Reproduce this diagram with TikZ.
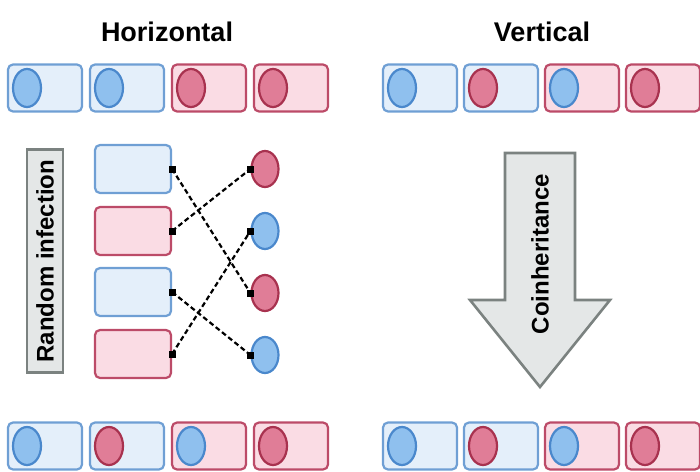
\documentclass[tikz,border=0pt]{standalone}
\usepackage{fontspec}
\setmainfont{Liberation Sans}
\usetikzlibrary{shapes.geometric}
\definecolor{bluefill}{HTML}{E4EFFA}
\definecolor{blueline}{HTML}{6F9FD4}
\definecolor{bluecell}{HTML}{8FC0EE}
\definecolor{bluering}{HTML}{4A88CC}
\definecolor{redfill}{HTML}{FADCE4}
\definecolor{redline}{HTML}{BC4B68}
\definecolor{redcell}{HTML}{E07D97}
\definecolor{redring}{HTML}{A8324F}
\definecolor{greyfill}{HTML}{E4E7E7}
\definecolor{greyline}{HTML}{7B8280}
\tikzset{
  bbox/.style={draw=blueline,fill=bluefill,line width=2.2pt,rounded corners=5pt,minimum width=74pt,minimum height=47pt,inner sep=0pt},
  rbox/.style={bbox,draw=redline,fill=redfill},
  bcell/.style={ellipse,draw=bluering,fill=bluecell,line width=2.2pt,minimum width=28pt,minimum height=38pt,inner sep=0pt},
  rcell/.style={bcell,draw=redring,fill=redcell},
  title/.style={font=\bfseries\fontsize{27}{30}\selectfont},
  tag/.style={font=\bfseries\fontsize{24}{26}\selectfont,rotate=90,inner sep=0pt},
  link/.style={line width=2.2pt,dash pattern=on 5pt off 3pt},
  dot/.style={fill=black,minimum size=7pt,inner sep=0pt}
}
\begin{document}
\begin{tikzpicture}[x=1pt,y=-1pt]
  \useasboundingbox (0,0) rectangle (700,471);

  \node[title] (0) at (167,32) {Horizontal};
  \node[title] (1) at (542,32) {Vertical};

  \node[bbox] (2) at (45,88) {};
  \node[bbox] (3) at (127,88) {};
  \node[rbox] (4) at (209,88) {};
  \node[rbox] (5) at (291,88) {};
  \node[bcell] (6) at (27,88) {};
  \node[bcell] (7) at (109,88) {};
  \node[rcell] (8) at (191,88) {};
  \node[rcell] (9) at (273,88) {};

  \node[bbox] (10) at (420,88) {};
  \node[bbox] (11) at (501,88) {};
  \node[rbox] (12) at (582,88) {};
  \node[rbox] (13) at (663,88) {};
  \node[bcell] (14) at (402,88) {};
  \node[rcell] (15) at (483,88) {};
  \node[bcell] (16) at (564,88) {};
  \node[rcell] (17) at (645,88) {};

  \node[tag,draw=greyline,fill=greyfill,line width=2.6pt,minimum width=223pt,minimum height=36pt] (18) at (45,261) {Random infection};

  \node[bbox,minimum width=76pt,minimum height=48pt] (19) at (133,169) {};
  \node[rbox,minimum width=76pt,minimum height=48pt] (20) at (133,231) {};
  \node[bbox,minimum width=76pt,minimum height=48pt] (21) at (133,292) {};
  \node[rbox,minimum width=76pt,minimum height=48pt] (22) at (133,354) {};
  \node[rcell,minimum width=27pt,minimum height=36pt] (23) at (265,169) {};
  \node[bcell,minimum width=27pt,minimum height=36pt] (24) at (265,231) {};
  \node[rcell,minimum width=27pt,minimum height=36pt] (25) at (265,293) {};
  \node[bcell,minimum width=27pt,minimum height=36pt] (26) at (265,355) {};

  \draw[link] (19.east) node[dot] {} -- (25.west) node[dot] {};
  \draw[link] (20.east) node[dot] {} -- (23.west) node[dot] {};
  \draw[link] (21.east) node[dot] {} -- (26.west) node[dot] {};
  \draw[link] (22.east) node[dot] {} -- (24.west) node[dot] {};

  \draw[draw=greyline,fill=greyfill,line width=2.6pt,line join=miter] (505,153) -- (575,153) -- (575,300) -- (610,300) -- (540,387) -- (470,300) -- (505,300) -- cycle;
  \node[tag] (27) at (540,254) {Coinheritance};

  \node[bbox] (28) at (45,446) {};
  \node[bbox] (29) at (127,446) {};
  \node[rbox] (30) at (209,446) {};
  \node[rbox] (31) at (291,446) {};
  \node[bcell] (32) at (27,446) {};
  \node[rcell] (33) at (109,446) {};
  \node[bcell] (34) at (191,446) {};
  \node[rcell] (35) at (273,446) {};

  \node[bbox] (36) at (420,446) {};
  \node[bbox] (37) at (501,446) {};
  \node[rbox] (38) at (582,446) {};
  \node[rbox] (39) at (663,446) {};
  \node[bcell] (40) at (402,446) {};
  \node[rcell] (41) at (483,446) {};
  \node[bcell] (42) at (564,446) {};
  \node[rcell] (43) at (645,446) {};
\end{tikzpicture}
\end{document}
